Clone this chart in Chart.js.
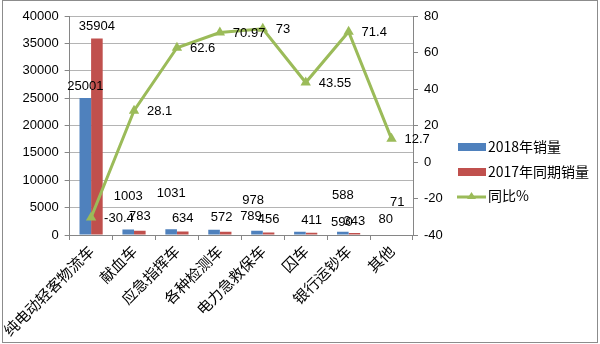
<!DOCTYPE html>
<html>
<head>
<meta charset="utf-8">
<script src="https://cdn.jsdelivr.net/npm/chart.js@4.4.1/dist/chart.umd.min.js"></script>
<style>
  html, body { margin: 0; padding: 0; background: #fff; }
  #wrap { width: 600px; height: 344px; }
</style>
</head>
<body>
<div id="wrap"><canvas id="salesChart" width="600" height="344"></canvas></div>
<script>
const categories = ["纯电动轻客物流车", "献血车", "应急指挥车", "各种检测车", "电力急救保车", "囚车", "银行运钞车", "其他"];
const sales2018 = [25001, 1003, 1031, 978, 789, 590, 588, 80];
const sales2017 = [35904, 783, 634, 572, 456, 411, 343, 71];
const yoyPct = [-30.4, 28.1, 62.6, 70.97, 73, 43.55, 71.4, 12.7];
const leftTicks = [0, 5000, 10000, 15000, 20000, 25000, 30000, 35000, 40000];
const rightTicks = [-40, -20, 0, 20, 40, 60, 80];

// label shifts (dx, dy) so the small-bar labels don't pile up
const shift2018 = [[0, 0], [0, -21], [0, -24], [39, -17], [-6, -2], [42, 3], [0, -24], [0, -3]];
const shift2017 = [[0, 0], [0, -2], [0, -1], [-4, -2], [0, -1], [0, 0], [0, 0], [0, -20]];

const BLUE = "#4F81BD", RED = "#C0504D", GREEN = "#9BBB59";
const AXIS = "#868686";
const NUM_FAMILY = "'Liberation Sans', Arial, sans-serif";
const NUM_FONT = "13px " + NUM_FAMILY;
const CJK_FONT = "'Noto Sans CJK SC', sans-serif";

const frame = {
  id: "frame",
  beforeDraw(chart) {
    const ctx = chart.ctx;
    ctx.save();
    ctx.fillStyle = "#fff";
    ctx.fillRect(0, 0, chart.width, chart.height);
    ctx.restore();
  },
  afterDraw(chart) {
    const ctx = chart.ctx;
    ctx.save();
    ctx.strokeStyle = "#8c8c8c";
    ctx.lineWidth = 1;
    ctx.strokeRect(2.5, 0.5, 595, 342);

    // legend
    ctx.font = "14px " + CJK_FONT;
    ctx.textBaseline = "middle";
    ctx.fillStyle = BLUE;
    ctx.fillRect(458, 143, 28, 8);
    ctx.fillStyle = RED;
    ctx.fillRect(458, 168, 28, 8);
    ctx.strokeStyle = GREEN;
    ctx.lineWidth = 3;
    ctx.beginPath();
    ctx.moveTo(457, 197);
    ctx.lineTo(486, 197);
    ctx.stroke();
    ctx.fillStyle = GREEN;
    ctx.beginPath();
    ctx.moveTo(471.5, 192);
    ctx.lineTo(476, 199);
    ctx.lineTo(467, 199);
    ctx.closePath();
    ctx.fill();
    ctx.fillStyle = "#000";
    ctx.fillText("2018年销量", 488, 147);
    ctx.fillText("2017年同期销量", 488, 172);
    ctx.fillText("同比%", 488, 196);
    ctx.restore();
  }
};

const valueLabels = {
  id: "valueLabels",
  afterDatasetsDraw(chart) {
    const ctx = chart.ctx;
    ctx.save();
    ctx.font = NUM_FONT;
    ctx.fillStyle = "#000";
    ctx.textBaseline = "middle";

    ctx.textAlign = "center";
    [[0, sales2018, shift2018], [1, sales2017, shift2017]].forEach(([idx, vals, shift]) => {
      chart.getDatasetMeta(idx).data.forEach((bar, i) => {
        ctx.fillText(String(vals[i]), bar.x + shift[i][0], bar.y - 12 + shift[i][1]);
      });
    });

    ctx.textAlign = "left";
    chart.getDatasetMeta(2).data.forEach((pt, i) => {
      ctx.fillText(String(yoyPct[i]), pt.x + 13, pt.y + 1);
    });
    ctx.restore();
  }
};

new Chart(document.getElementById("salesChart"), {
  data: {
    labels: categories,
    datasets: [
      {
        type: "bar",
        label: "2018年销量",
        data: sales2018,
        backgroundColor: BLUE,
        yAxisID: "y",
        order: 1
      },
      {
        type: "bar",
        label: "2017年同期销量",
        data: sales2017,
        backgroundColor: RED,
        yAxisID: "y",
        order: 1
      },
      {
        type: "line",
        label: "同比%",
        data: yoyPct,
        borderColor: GREEN,
        backgroundColor: GREEN,
        borderWidth: 3,
        pointStyle: "triangle",
        pointRadius: 6,
        pointBorderWidth: 0,
        tension: 0,
        yAxisID: "y1",
        order: 0
      }
    ]
  },
  options: {
    responsive: false,
    animation: false,
    categoryPercentage: 0.54,
    barPercentage: 1,
    layout: { padding: { left: 0, top: 16, right: 147, bottom: 0 } },
    plugins: {
      legend: { display: false },
      tooltip: { enabled: false }
    },
    scales: {
      x: {
        grid: { drawOnChartArea: false, offset: true, tickLength: 5, color: AXIS, tickColor: AXIS },
        border: { color: AXIS },
        ticks: {
          autoSkip: false,
          minRotation: 45,
          maxRotation: 45,
          padding: 2,
          color: "#000",
          font: { family: CJK_FONT, size: 15 }
        },
        afterFit(scale) { scale.height = 109; }
      },
      y: {
        position: "left",
        min: 0,
        max: 40000,
        afterBuildTicks(scale) { scale.ticks = leftTicks.map(v => ({ value: v })); },
        grid: { color: "#b4b4b4", tickColor: AXIS, tickLength: 5 },
        border: { color: AXIS },
        ticks: {
          padding: 6,
          color: "#000",
          font: { family: NUM_FAMILY, size: 13 },
          callback: v => String(v)
        },
        afterFit(scale) { scale.width = 68; }
      },
      y1: {
        position: "right",
        min: -40,
        max: 80,
        afterBuildTicks(scale) { scale.ticks = rightTicks.map(v => ({ value: v })); },
        grid: { drawOnChartArea: false, tickColor: AXIS, tickLength: 5 },
        border: { color: AXIS },
        ticks: {
          padding: 6,
          color: "#000",
          font: { family: NUM_FAMILY, size: 13 },
          callback: v => String(v)
        },
        afterFit(scale) { scale.width = 40; }
      }
    }
  },
  plugins: [frame, valueLabels]
});
</script>
</body>
</html>
